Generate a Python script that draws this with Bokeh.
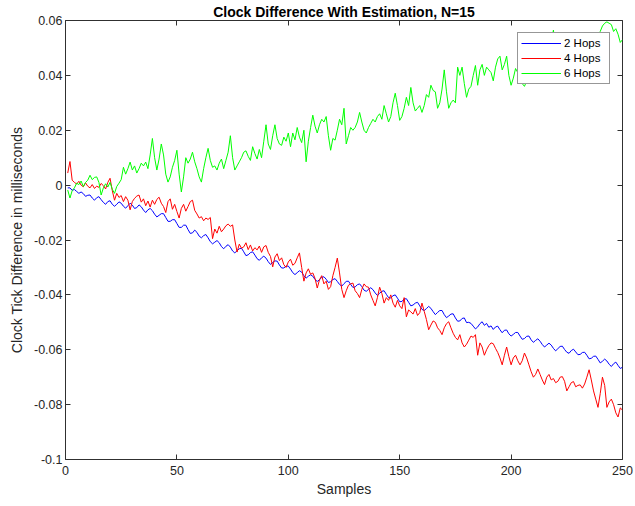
from bokeh.plotting import figure
from bokeh.models import Range1d, FixedTicker, LinearAxis, Legend, LegendItem, ColumnDataSource
from bokeh.embed import file_html
from bokeh.resources import INLINE

samples = list(range(1, 251))

hops2 = [
    -0.0010, -0.0010, -0.0019, -0.0016, -0.0023, -0.0030, -0.0025, -0.0031, -0.0041, -0.0037,
    -0.0036, -0.0047, -0.0055, -0.0046, -0.0042, -0.0053, -0.0063, -0.0070, -0.0060, -0.0057,
    -0.0070, -0.0077, -0.0070, -0.0061, -0.0066, -0.0077, -0.0084, -0.0075, -0.0066, -0.0073,
    -0.0085, -0.0082, -0.0072, -0.0079, -0.0091, -0.0100, -0.0090, -0.0085, -0.0093, -0.0106,
    -0.0116, -0.0110, -0.0104, -0.0104, -0.0118, -0.0132, -0.0132, -0.0126, -0.0126, -0.0140,
    -0.0154, -0.0154, -0.0146, -0.0146, -0.0162, -0.0176, -0.0174, -0.0164, -0.0172, -0.0186,
    -0.0192, -0.0184, -0.0180, -0.0192, -0.0206, -0.0214, -0.0208, -0.0202, -0.0210, -0.0224,
    -0.0232, -0.0223, -0.0217, -0.0226, -0.0240, -0.0247, -0.0239, -0.0232, -0.0230, -0.0243,
    -0.0257, -0.0254, -0.0246, -0.0243, -0.0255, -0.0268, -0.0274, -0.0265, -0.0259, -0.0266,
    -0.0279, -0.0289, -0.0282, -0.0276, -0.0277, -0.0291, -0.0302, -0.0302, -0.0295, -0.0295,
    -0.0306, -0.0319, -0.0326, -0.0319, -0.0312, -0.0317, -0.0330, -0.0339, -0.0332, -0.0327,
    -0.0332, -0.0344, -0.0351, -0.0345, -0.0336, -0.0334, -0.0343, -0.0355, -0.0352, -0.0344,
    -0.0341, -0.0351, -0.0362, -0.0368, -0.0359, -0.0351, -0.0350, -0.0362, -0.0373, -0.0371,
    -0.0363, -0.0360, -0.0370, -0.0383, -0.0387, -0.0380, -0.0374, -0.0381, -0.0393, -0.0402,
    -0.0394, -0.0387, -0.0385, -0.0398, -0.0410, -0.0411, -0.0403, -0.0400, -0.0412, -0.0425,
    -0.0424, -0.0415, -0.0414, -0.0427, -0.0440, -0.0437, -0.0430, -0.0427, -0.0440, -0.0453,
    -0.0457, -0.0450, -0.0442, -0.0449, -0.0461, -0.0472, -0.0464, -0.0457, -0.0457, -0.0472,
    -0.0483, -0.0477, -0.0470, -0.0469, -0.0484, -0.0496, -0.0495, -0.0486, -0.0484, -0.0501,
    -0.0500, -0.0504, -0.0514, -0.0524, -0.0517, -0.0505, -0.0498, -0.0511, -0.0504, -0.0518,
    -0.0513, -0.0526, -0.0517, -0.0514, -0.0527, -0.0538, -0.0529, -0.0528, -0.0542, -0.0550,
    -0.0544, -0.0537, -0.0537, -0.0550, -0.0562, -0.0559, -0.0551, -0.0550, -0.0564, -0.0573,
    -0.0566, -0.0560, -0.0569, -0.0581, -0.0590, -0.0583, -0.0576, -0.0583, -0.0595, -0.0604,
    -0.0596, -0.0588, -0.0587, -0.0599, -0.0609, -0.0613, -0.0603, -0.0598, -0.0608, -0.0618,
    -0.0617, -0.0610, -0.0609, -0.0620, -0.0633, -0.0631, -0.0624, -0.0623, -0.0635, -0.0648,
    -0.0642, -0.0634, -0.0641, -0.0653, -0.0661, -0.0651, -0.0645, -0.0657, -0.0668, -0.0664,
]

hops4 = [
    0.0044, 0.0086, 0.0018, 0.0010, 0.0004, 0.0014, 0.0000, -0.0006, 0.0008, -0.0004,
    -0.0010, 0.0002, -0.0012, -0.0004, -0.0008, 0.0006, -0.0002, -0.0014, 0.0010, 0.0025,
    -0.0020, -0.0055, -0.0030, -0.0045, -0.0038, -0.0060, -0.0042, -0.0055, -0.0090, -0.0060,
    -0.0048, -0.0040, -0.0036, -0.0062, -0.0050, -0.0075, -0.0058, -0.0080, -0.0055, -0.0070,
    -0.0052, -0.0044, -0.0066, -0.0078, -0.0100, -0.0060, -0.0050, -0.0088, -0.0070, -0.0096,
    -0.0120, -0.0085, -0.0070, -0.0095, -0.0078, -0.0060, -0.0055, -0.0092, -0.0105, -0.0120,
    -0.0115, -0.0130, -0.0120, -0.0125, -0.0118, -0.0195, -0.0160, -0.0175, -0.0150, -0.0170,
    -0.0160, -0.0148, -0.0142, -0.0150, -0.0145, -0.0200, -0.0244, -0.0215, -0.0230, -0.0225,
    -0.0210, -0.0235, -0.0218, -0.0240, -0.0228, -0.0236, -0.0222, -0.0245, -0.0225, -0.0220,
    -0.0245, -0.0260, -0.0298, -0.0262, -0.0250, -0.0275, -0.0265, -0.0290, -0.0300, -0.0280,
    -0.0270, -0.0292, -0.0285, -0.0265, -0.0247, -0.0300, -0.0350, -0.0320, -0.0305, -0.0325,
    -0.0320, -0.0340, -0.0375, -0.0345, -0.0330, -0.0360, -0.0350, -0.0380, -0.0370, -0.0330,
    -0.0300, -0.0266, -0.0320, -0.0380, -0.0410, -0.0385, -0.0365, -0.0360, -0.0357, -0.0385,
    -0.0395, -0.0410, -0.0380, -0.0360, -0.0370, -0.0372, -0.0400, -0.0420, -0.0440, -0.0410,
    -0.0372, -0.0395, -0.0430, -0.0410, -0.0420, -0.0400, -0.0430, -0.0445, -0.0420, -0.0440,
    -0.0450, -0.0410, -0.0480, -0.0455, -0.0462, -0.0470, -0.0450, -0.0475, -0.0465, -0.0430,
    -0.0460, -0.0490, -0.0527, -0.0510, -0.0495, -0.0500, -0.0520, -0.0530, -0.0545, -0.0520,
    -0.0505, -0.0498, -0.0520, -0.0540, -0.0555, -0.0564, -0.0545, -0.0575, -0.0590, -0.0580,
    -0.0565, -0.0550, -0.0555, -0.0545, -0.0620, -0.0575, -0.0590, -0.0620, -0.0600, -0.0585,
    -0.0575, -0.0578, -0.0595, -0.0610, -0.0630, -0.0655, -0.0620, -0.0590, -0.0625, -0.0655,
    -0.0630, -0.0620, -0.0640, -0.0655, -0.0640, -0.0612, -0.0630, -0.0655, -0.0680, -0.0700,
    -0.0690, -0.0670, -0.0690, -0.0710, -0.0727, -0.0700, -0.0690, -0.0710, -0.0705, -0.0720,
    -0.0715, -0.0700, -0.0698, -0.0715, -0.0750, -0.0735, -0.0720, -0.0716, -0.0735, -0.0730,
    -0.0728, -0.0740, -0.0725, -0.0700, -0.0673, -0.0710, -0.0750, -0.0780, -0.0810, -0.0760,
    -0.0700, -0.0730, -0.0810, -0.0790, -0.0780, -0.0800, -0.0830, -0.0845, -0.0812, -0.0820,
]

hops6 = [
    -0.0018, -0.0047, -0.0020, -0.0010, 0.0007, 0.0002, 0.0015, -0.0005, 0.0010, 0.0018,
    0.0036, 0.0020, 0.0028, 0.0030, 0.0010, -0.0036, -0.0010, 0.0005, -0.0007, 0.0010,
    -0.0015, -0.0030, -0.0005, 0.0007, 0.0020, 0.0065, 0.0040, 0.0060, 0.0084, 0.0055,
    0.0070, 0.0044, 0.0060, 0.0080, 0.0070, 0.0084, 0.0060, 0.0110, 0.0170, 0.0100,
    0.0055, 0.0095, 0.0150, 0.0110, 0.0040, 0.0011, 0.0030, 0.0065, 0.0090, 0.0127,
    0.0040, -0.0025, 0.0030, 0.0100, 0.0080, 0.0095, 0.0120, 0.0085, 0.0060, 0.0030,
    0.0011, 0.0060, 0.0100, 0.0134, 0.0090, 0.0065, 0.0070, 0.0055, 0.0080, 0.0095,
    0.0060, 0.0090, 0.0120, 0.0180, 0.0100, 0.0055, 0.0070, 0.0085, 0.0100, 0.0120,
    0.0125, 0.0105, 0.0090, 0.0140, 0.0115, 0.0095, 0.0130, 0.0100, 0.0160, 0.0220,
    0.0150, 0.0130, 0.0180, 0.0220, 0.0170, 0.0150, 0.0145, 0.0175, 0.0160, 0.0190,
    0.0140, 0.0190, 0.0165, 0.0210, 0.0175, 0.0155, 0.0200, 0.0085, 0.0160, 0.0210,
    0.0255, 0.0215, 0.0190, 0.0220, 0.0240, 0.0230, 0.0250, 0.0180, 0.0127, 0.0170,
    0.0164, 0.0200, 0.0240, 0.0220, 0.0280, 0.0150, 0.0180, 0.0210, 0.0200, 0.0210,
    0.0230, 0.0265, 0.0230, 0.0200, 0.0190, 0.0210, 0.0225, 0.0240, 0.0230, 0.0250,
    0.0260, 0.0240, 0.0290, 0.0260, 0.0230, 0.0250, 0.0300, 0.0335, 0.0290, 0.0236,
    0.0250, 0.0280, 0.0320, 0.0290, 0.0356, 0.0300, 0.0270, 0.0280, 0.0290, 0.0265,
    0.0290, 0.0330, 0.0320, 0.0364, 0.0345, 0.0340, 0.0280, 0.0300, 0.0350, 0.0420,
    0.0340, 0.0280, 0.0300, 0.0310, 0.0300, 0.0430, 0.0400, 0.0430, 0.0370, 0.0320,
    0.0350, 0.0360, 0.0400, 0.0436, 0.0364, 0.0420, 0.0440, 0.0400, 0.0430, 0.0420,
    0.0410, 0.0380, 0.0430, 0.0460, 0.0470, 0.0420, 0.0440, 0.0470, 0.0400, 0.0364,
    0.0390, 0.0425, 0.0410, 0.0440, 0.0370, 0.0360, 0.0380, 0.0420, 0.0450, 0.0430,
    0.0470, 0.0440, 0.0480, 0.0460, 0.0500, 0.0470, 0.0490, 0.0520, 0.0565, 0.0480,
    0.0470, 0.0500, 0.0490, 0.0510, 0.0480, 0.0520, 0.0500, 0.0530, 0.0490, 0.0510,
    0.0530, 0.0500, 0.0520, 0.0540, 0.0510, 0.0530, 0.0550, 0.0520, 0.0540, 0.0560,
    0.0580, 0.0590, 0.0595, 0.0590, 0.0585, 0.0560, 0.0570, 0.0550, 0.0520, 0.0530,
]

series_names = ["2 Hops", "4 Hops", "6 Hops"]
series_colors = ["#0000ff", "#ff0000", "#00ff00"]

xticks = [0, 50, 100, 150, 200, 250]
yticks = [-0.1, -0.08, -0.06, -0.04, -0.02, 0, 0.02, 0.04, 0.06]
ytick_labels = ["-0.1", "-0.08", "-0.06", "-0.04", "-0.02", "0", "0.02", "0.04", "0.06"]

title_text = "Clock Difference With Estimation, N=15"
xlabel = "Samples"
ylabel = "Clock Tick Difference in milliseconds"

FONT = "Liberation Sans"
AX = "#303030"

p = figure(width=635, height=506, title=title_text,
           x_range=Range1d(0, 250), y_range=Range1d(-0.1, 0.06),
           output_backend="svg", toolbar_location=None,
           min_border_left=65, min_border_top=19, min_border_right=13, min_border_bottom=47,
           background_fill_color="white", border_fill_color="white")
p.grid.visible = False
p.outline_line_color = AX
p.outline_line_width = 1

p.title.text_font = FONT
p.title.text_font_style = "bold"
p.title.text_font_size = "14px"
p.title.text_color = "black"
p.title.align = "center"
p.title.standoff = 2
p.title.offset = 0

def style_axis(ax, ticks):
    ax.ticker = FixedTicker(ticks=ticks)
    ax.axis_line_color = None
    ax.major_tick_in = 5
    ax.major_tick_out = 0
    ax.major_tick_line_color = AX
    ax.minor_tick_line_color = None
    ax.major_label_text_font = FONT
    ax.major_label_text_font_size = "12.5px"
    ax.major_label_text_color = "#262626"
    ax.axis_label_text_font = FONT
    ax.axis_label_text_font_style = "normal"
    ax.axis_label_text_font_size = "14px"
    ax.axis_label_text_color = "#262626"

xa = p.xaxis[0]
style_axis(xa, xticks)
xa.axis_label = xlabel
xa.major_label_standoff = 6
xa.axis_label_standoff = 3

ya = p.yaxis[0]
style_axis(ya, yticks)
ya.axis_label = ylabel
ya.major_label_overrides = {t: s for t, s in zip(yticks, ytick_labels)}
ya.major_label_standoff = 3
ya.axis_label_standoff = 6

top = LinearAxis()
style_axis(top, xticks)
top.major_label_overrides = {t: "" for t in xticks}
top.major_label_text_font_size = "0px"
top.major_label_standoff = 0
p.add_layout(top, "above")

right = LinearAxis()
style_axis(right, yticks)
right.major_label_overrides = {t: "" for t in yticks}
right.major_label_text_font_size = "0px"
right.major_label_standoff = 0
p.add_layout(right, "right")

renderers = []
for name, vals, col in zip(series_names, [hops2, hops4, hops6], series_colors):
    src = ColumnDataSource(data=dict(x=samples, y=vals))
    r = p.line("x", "y", source=src, line_color=col, line_width=1)
    renderers.append((name, r))

legend = Legend(items=[LegendItem(label=n, renderers=[r]) for n, r in renderers],
                location="top_right", margin=12, padding=3, spacing=1,
                glyph_width=40, glyph_height=14, label_height=14, label_width=42,
                label_standoff=3,
                label_text_font=FONT, label_text_font_size="11.5px", label_text_color="black",
                border_line_color=AX, border_line_width=1,
                background_fill_color="white", background_fill_alpha=1.0)
p.add_layout(legend)

open("out.html", "w").write(file_html(p, INLINE))
